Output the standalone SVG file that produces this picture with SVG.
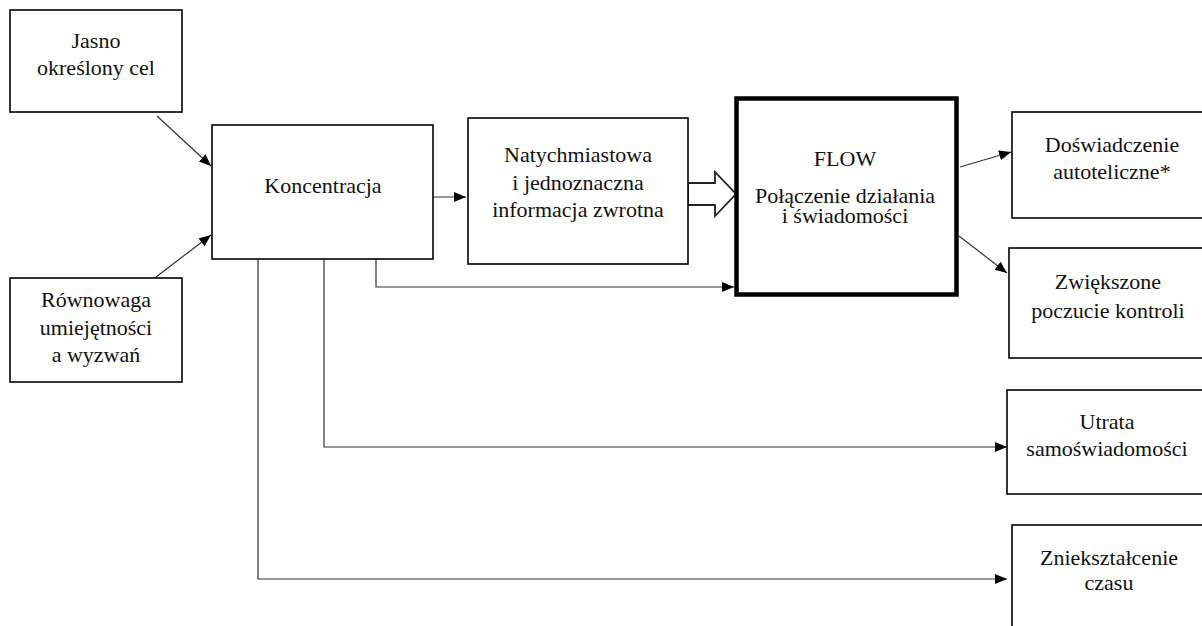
<svg xmlns="http://www.w3.org/2000/svg" width="1202" height="626" viewBox="0 0 1202 626">
<style>
.box{fill:#fff;stroke:#000;stroke-width:1.6}
.flow{fill:#fff;stroke:#000;stroke-width:4.5}
.t{font-family:"Liberation Serif","Times New Roman",serif;font-size:22px;fill:#111;text-anchor:middle}
.c{fill:none;stroke:#333;stroke-width:1.2}
.blk{fill:#fff;stroke:#222;stroke-width:1.8}
</style>
<defs>
<marker id="ah" markerUnits="userSpaceOnUse" markerWidth="13" markerHeight="11" refX="12" refY="5" orient="auto" viewBox="0 0 13 11">
<path d="M0,0 L12,5 L0,10 z" fill="#000"/>
</marker>
</defs>
<rect width="1202" height="626" fill="#fff"/>
<g id="connectors">
<path class="c" d="M157 116 L211 166" marker-end="url(#ah)"/>
<path class="c" d="M156 277 L211 235" marker-end="url(#ah)"/>
<path class="c" d="M433 197 H466" marker-end="url(#ah)"/>
<path class="c" d="M376 259 V287 H734" marker-end="url(#ah)"/>
<path class="c" d="M324 259 V447 H1007" marker-end="url(#ah)"/>
<path class="c" d="M258 259 V579 H1007" marker-end="url(#ah)"/>
<path class="c" d="M960 167 L1011 152" marker-end="url(#ah)"/>
<path class="c" d="M959 236 L1007 273" marker-end="url(#ah)"/>
<polygon class="blk" points="688,183 715,183 715,172 736,194 715,216 715,205 688,205"/>
</g>
<g id="jasno">
<rect class="box" x="10" y="10" width="172" height="102"/>
<text class="t" x="96" y="48">Jasno</text>
<text class="t" x="96" y="75">określony cel</text>
</g>
<g id="rownowaga">
<rect class="box" x="10" y="278" width="172" height="104"/>
<text class="t" x="96" y="307">Równowaga</text>
<text class="t" x="96" y="335">umiejętności</text>
<text class="t" x="96" y="362">a wyzwań</text>
</g>
<g id="koncentracja">
<rect class="box" x="212" y="125" width="221" height="134"/>
<text class="t" x="323" y="193">Koncentracja</text>
</g>
<g id="natychmiastowa">
<rect class="box" x="468" y="118" width="220" height="146"/>
<text class="t" x="578" y="162">Natychmiastowa</text>
<text class="t" x="578" y="190">i jednoznaczna</text>
<text class="t" x="578" y="217">informacja zwrotna</text>
</g>
<g id="flow">
<rect class="flow" x="736.5" y="98.5" width="220" height="196"/>
<text class="t" x="845" y="166">FLOW</text>
<text class="t" x="845" y="203">Połączenie działania</text>
<text class="t" x="845" y="223">i świadomości</text>
</g>
<g id="doswiadczenie">
<rect class="box" x="1012" y="112" width="210" height="106"/>
<text class="t" x="1112" y="152">Doświadczenie</text>
<text class="t" x="1112" y="179">autoteliczne*</text>
</g>
<g id="zwiekszone">
<rect class="box" x="1009" y="248" width="210" height="110"/>
<text class="t" x="1108" y="289">Zwiększone</text>
<text class="t" x="1108" y="318">poczucie kontroli</text>
</g>
<g id="utrata">
<rect class="box" x="1007" y="390" width="210" height="104"/>
<text class="t" x="1107" y="429">Utrata</text>
<text class="t" x="1107" y="456">samoświadomości</text>
</g>
<g id="znieksztalcenie">
<rect class="box" x="1012" y="525" width="210" height="120"/>
<text class="t" x="1109" y="565">Zniekształcenie</text>
<text class="t" x="1109" y="590">czasu</text>
</g>
</svg>
